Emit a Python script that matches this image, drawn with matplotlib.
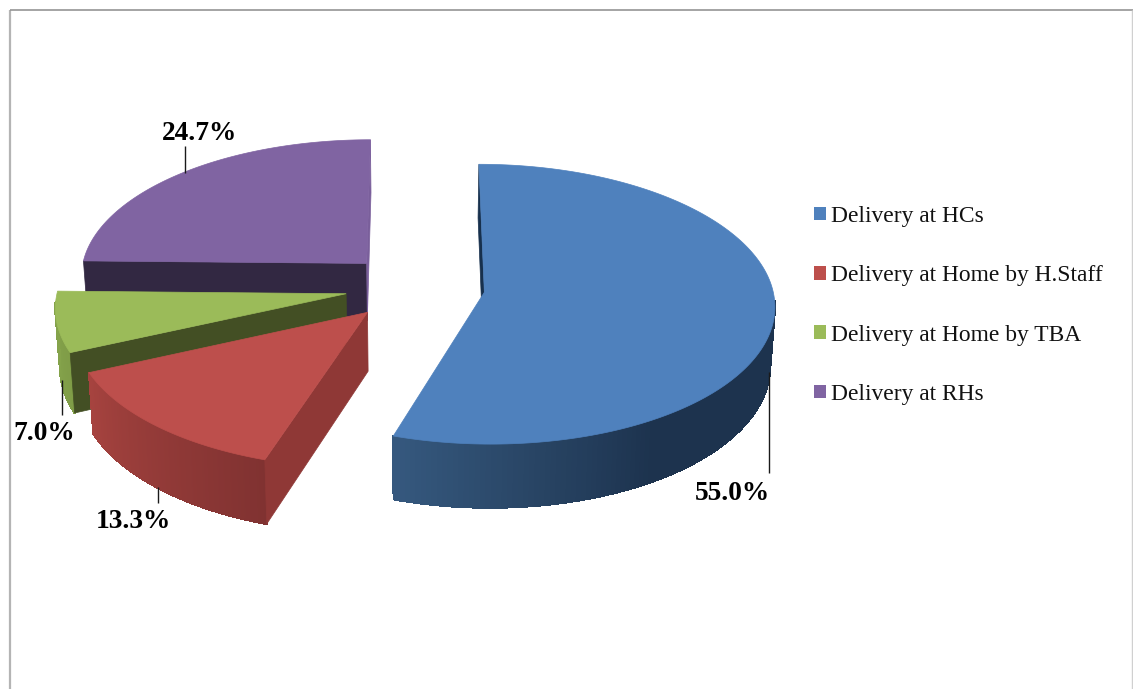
import numpy as np
import matplotlib
matplotlib.use("Agg")
import matplotlib.pyplot as plt
from matplotlib.collections import LineCollection, PolyCollection
from matplotlib.colors import to_rgb
from matplotlib.patches import Patch, Polygon

# data, in the order of the legend
categories = ["Delivery at HCs", "Delivery at Home by H.Staff", "Delivery at Home by TBA", "Delivery at RHs"]
shares = [55.0, 13.3, 7.0, 24.7]
share_labels = ["55.0%", "13.3%", "7.0%", "24.7%"]

# style
top_colors = ["#4f81bd", "#bd4f4c", "#9bbb59", "#8064a2"]
cut_start = ["#17304d", "#8f3836", "#434f24", "#322842"]
cut_end = ["#17304d", "#8f3836", "#434f24", "#7a5f9b"]
wall_light = ["#36597f", "#a6433f", "#86a54c", "#4d3c63"]
wall_dark = ["#1d334e", "#803231", "#7f9c47", "#4d3c63"]
wall_span = [0.25, 1.0, 1.0, 1.0]

# fake 3d projection
x0, y0 = 415, 287
rx, ry = 288, 138
persp = 0.085
shrink = 0.013
explode = 0.243
depth = 58

# leader lines and text of the labels, in pixels
leaders = [(769, 372, 473), (158, 487, 503), (62, 380, 415), (185, 146, 173)]
label_xy = [(732, 494), (133.5, 521), (44.5, 434), (199.5, 133)]

plt.rcParams["font.family"] = ["Liberation Serif", "DejaVu Serif"]

fig = plt.figure(figsize=(11.33, 6.89), dpi=100)
ax = fig.add_axes([0, 0, 1, 1])
ax.set_xlim(0, 1133)
ax.set_ylim(689, 0)
ax.axis("off")

# outer frame
ax.plot([10, 10], [689, 10], color="#b4b4b4", lw=1.6, solid_capstyle="butt")
ax.plot([10, 1133], [10, 10], color="#959595", lw=1.2, solid_capstyle="butt")
ax.plot([1132, 1132], [10, 689], color="#d0d0d0", lw=1.0, solid_capstyle="butt")


def project(X, V, lower=False):
    s = 1 / (1 + persp * V)
    if lower:
        return np.column_stack([x0 + rx * X * s * (1 - shrink), y0 - ry * V * s + depth * s])
    return np.column_stack([x0 + rx * X * s, y0 - ry * V * s])


def faces_camera(a, b, inner):
    # a side face shows when moving down leaves the top surface
    d = b - a
    return d[0] * (d[0] * (inner[1] - a[1]) - d[1] * (inner[0] - a[0])) < 0


edges = np.concatenate([[0], np.cumsum(shares)]) / sum(shares) * 2 * np.pi

# back to front
for i in [3, 2, 1, 0]:
    t0, t1 = edges[i], edges[i + 1]
    mid = (t0 + t1) / 2
    ox, ov = explode * np.sin(mid), explode * np.cos(mid)
    t = np.linspace(t0, t1, 200)
    X, V = ox + np.sin(t), ov + np.cos(t)
    rim = project(X, V)
    rim_low = project(X, V, lower=True)
    apex = project(np.array([ox]), np.array([ov]))
    apex_low = project(np.array([ox]), np.array([ov]), lower=True)

    # outer wall, front part only, shaded from the left end of the slice
    frac = np.clip((t1 - t) / (t1 - t0) / wall_span[i], 0, 1)
    light, dark = np.array(to_rgb(wall_light[i])), np.array(to_rgb(wall_dark[i]))
    polys = []
    cols = []
    segs = []
    for j in range(len(t) - 1):
        if np.cos(t[j]) > -0.06:
            continue
        polys.append([rim[j], rim[j + 1], rim_low[j + 1], rim_low[j]])
        segs.append([rim_low[j], rim_low[j + 1]])
        cols.append(light + (dark - light) * frac[j])
    z = 10 - i * 3
    if polys:
        ax.add_collection(PolyCollection(polys, facecolors=cols, edgecolors=cols, linewidths=0.8,
                                         antialiaseds=False, zorder=z))
        ax.add_collection(LineCollection(segs, colors=cols, linewidths=0.8, zorder=z))

    # the two cut faces
    inner = rim[len(t) // 2]
    for k, col in [(0, cut_start[i]), (-1, cut_end[i])]:
        if faces_camera(apex[0], rim[k], inner):
            face = [apex[0], rim[k], rim_low[k], apex_low[0]]
            ax.add_patch(Polygon(face, closed=True, fc=col, ec=col, lw=0.5, zorder=z + 1))

    # top surface
    top = np.vstack([apex, rim])
    ax.add_patch(Polygon(top, closed=True, fc=top_colors[i], ec=top_colors[i], lw=0.5, zorder=z + 2))

# labels
for (lx, ya, yb), (tx, ty), text in zip(leaders, label_xy, share_labels):
    ax.plot([lx, lx], [ya, yb], color="#1a1a1a", lw=1.0, zorder=30, solid_capstyle="butt")
    ax.text(tx, ty, text, ha="center", va="center", fontsize=19.7, fontweight="bold", color="black", zorder=31)

handles = [Patch(facecolor=c, edgecolor="none") for c in top_colors]
ax.legend(handles, categories, loc="upper left", bbox_to_anchor=(814, 206), bbox_transform=ax.transData,
          frameon=False, fontsize=16.9, handlelength=0.51, handleheight=0.51, handletextpad=0.21,
          labelspacing=1.63, borderpad=0, borderaxespad=0, labelcolor="#111111")

fig.savefig("out.png", dpi=100)
